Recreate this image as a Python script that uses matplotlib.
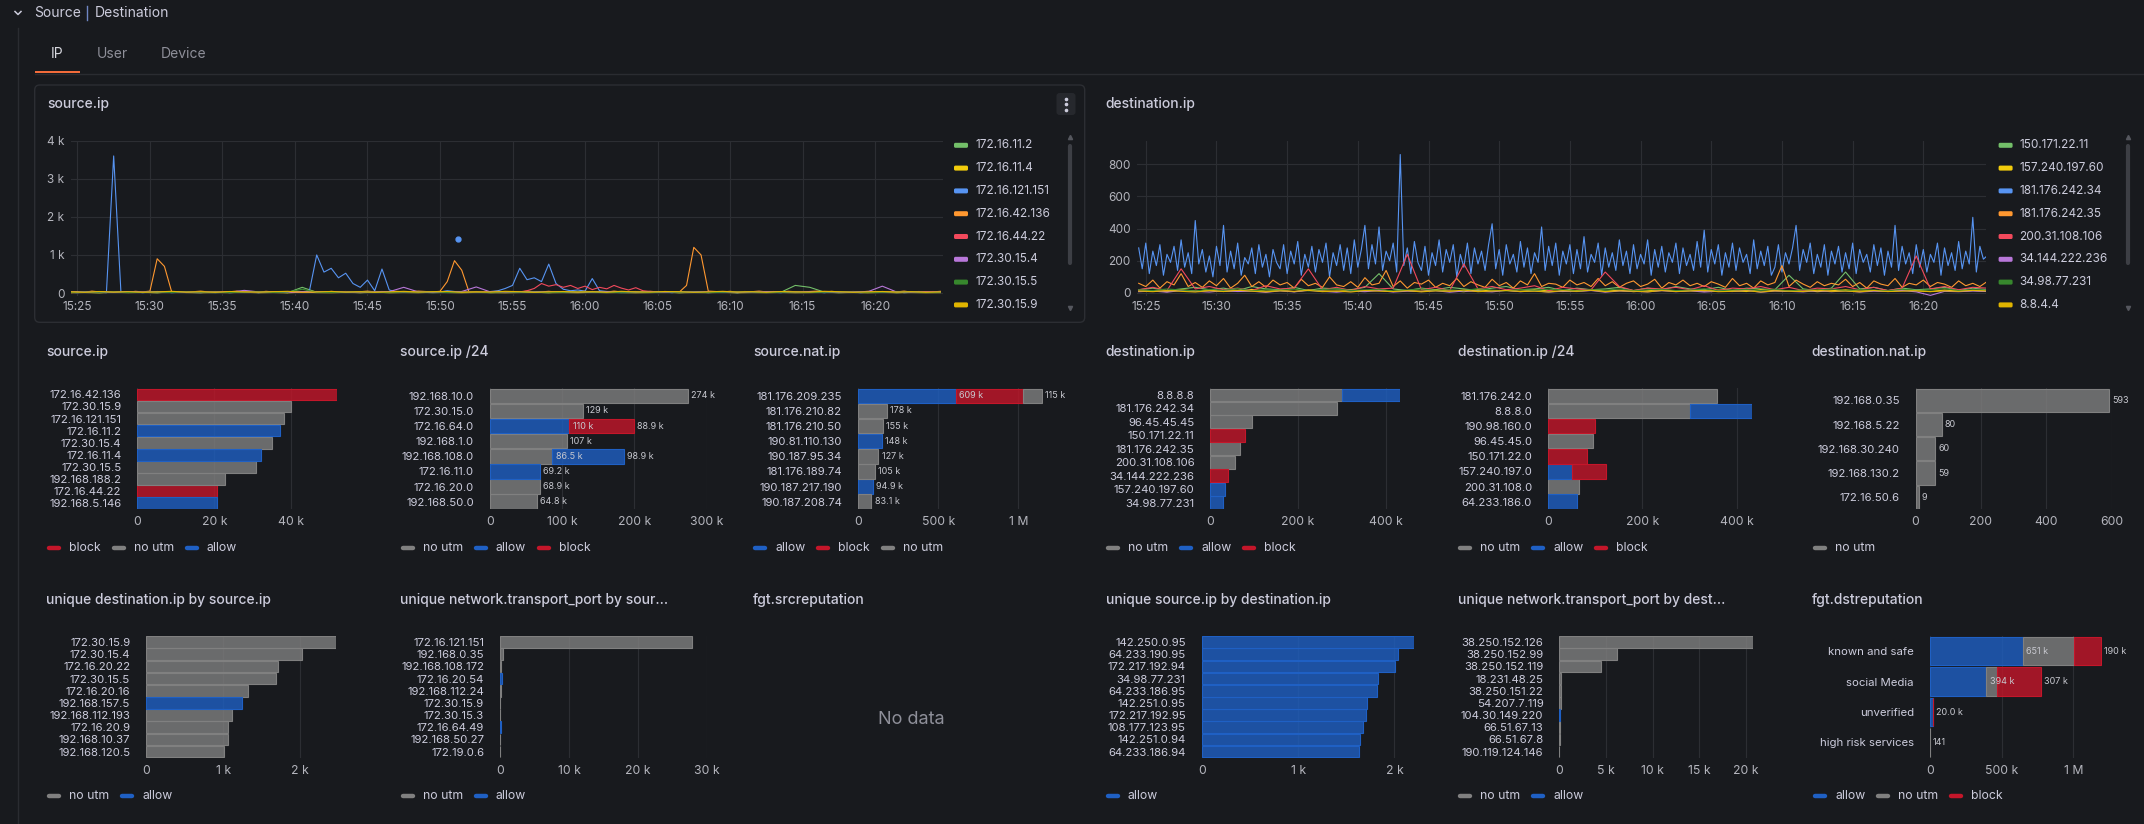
#! /usr/bin/env python3

"""Redraw the Grafana 'Source | Destination' row: two time series and a grid of bar charts."""

import numpy as np
import matplotlib
matplotlib.use('Agg')
import matplotlib.pyplot as plt
from matplotlib.colors import to_rgba
from matplotlib.lines import Line2D
from matplotlib.patches import FancyBboxPatch, Rectangle

plt.rcParams['font.family'] = ['Inter', 'DejaVu Sans']

W, H = 2144, 824

BG = '#181a1e'
TEXT = '#ccccdc'
MUTED = '#8e8f99'
TICK = '#b4b5bd'
GRID = '#2c2e33'
BORDER = '#2c2e33'
VALUE_TEXT = '#c8c9d0'

STATUS_COLORS = {'allow': '#1f60c4', 'block': '#c4162a', 'no utm': '#808080'}
TS_COLORS = ['#73bf69', '#f2cc0c', '#5794f2', '#ff9830',
             '#f2495c', '#b877d9', '#37872d', '#e0b400']

# ---------------------------------------------------------------- time series
# samples cover 15:24:30 .. 16:24:30, x is minutes after midnight
T_START = 15 * 60 + 24.5
TIME_TICKS = [15 * 60 + 25 + 5 * k for k in range(12)]

SRC_NAMES = ['172.16.11.2', '172.16.11.4', '172.16.121.151', '172.16.42.136',
             '172.16.44.22', '172.30.15.4', '172.30.15.5', '172.30.15.9']

SRC_172_16_11_2 = [15, 20, 10, 25, 15, 20, 10, 30, 15, 20,
                   10, 25, 15, 20, 30, 10, 150, 20, 15, 25,
                   10, 20, 30, 15, 25, 10, 20, 15, 30, 10,
                   25, 15, 20, 10, 30, 15, 20, 25, 10, 15,
                   20, 30, 10, 25, 15, 20, 10, 30, 15, 20,
                   200, 150, 25, 10, 20, 15, 30, 10, 25, 20, 15]
SRC_172_16_11_4 = [10, 15, 8, 20, 12, 18, 10, 25, 14, 9,
                   16, 12, 20, 10, 15, 8, 22, 13, 10, 18,
                   12, 25, 9, 15, 11, 20, 14, 10, 17, 12,
                   9, 15, 20, 11, 14, 10, 18, 12, 16, 9,
                   13, 20, 10, 15, 12, 18, 9, 14, 11, 16,
                   10, 13, 19, 12, 15, 9, 17, 11, 14, 10, 12]
SRC_172_16_121_151 = [20, 10, 30, 15, 25, 10, 3600, 20, 15, 30,
                      10, 25, 15, 30, 10, 20, 35, 15, 10, 25,
                      15, 30, 10, 20, 15, 25, 10, 30, 20, 15,
                      25, 40, 20, 60, 1000, 550, 650, 400, 520, 250,
                      150, 340, 60, 630, 80, 30, 20, 40, 15, 25,
                      20, 30, 60, 40, 20, 30, 15, 25, 40, 60,
                      120, 200, 650, 350, 400, 300, 760, 250, 100, 60,
                      80, 50, 380, 60, 40, 30, 20, 25, 15, 30,
                      20, 15, 25, 10, 30, 20, 15, 25, 10, 20,
                      15, 25, 10, 30, 20, 15, 25, 20, 10, 30,
                      20, 15, 40, 25, 10, 30, 20, 15, 25, 10,
                      20, 30, 15, 25, 40, 10, 20, 30, 15, 25, 20]
SRC_172_16_42_136 = [30, 40, 20, 50, 30, 40, 25, 35, 20, 45,
                     30, 50, 900, 700, 30, 40, 25, 35, 50, 30,
                     40, 25, 35, 50, 30, 40, 20, 45, 30, 35,
                     25, 40, 30, 50, 35, 20, 45, 30, 40, 25,
                     35, 50, 30, 40, 25, 45, 30, 35, 50, 40,
                     30, 45, 300, 850, 600, 30, 40, 25, 35, 45,
                     30, 40, 25, 50, 35, 30, 45, 25, 40, 30,
                     35, 45, 30, 40, 25, 50, 30, 35, 40, 25,
                     45, 30, 40, 35, 25, 200, 1200, 1000, 50, 40,
                     30, 45, 25, 40, 35, 50, 30, 40, 25, 45,
                     35, 30, 40, 50, 25, 45, 30, 35, 40, 30,
                     45, 25, 40, 35, 30, 50, 25, 40, 35, 30, 45]
SRC_172_16_44_22 = [10, 20, 15, 30, 25, 40, 20, 15, 35, 20,
                    25, 15, 40, 20, 30, 15, 25, 35, 20, 30,
                    15, 40, 25, 20, 30, 15, 35, 20, 25, 40,
                    20, 30, 15, 25, 40, 20, 30, 15, 35, 25,
                    20, 30, 25, 15, 40, 20, 30, 25, 15, 35,
                    25, 20, 30, 15, 40, 25, 20, 35, 15, 30,
                    25, 40, 30, 60, 120, 250, 180, 220, 150, 200,
                    120, 180, 90, 150, 110, 200, 130, 80, 140, 60,
                    40, 30, 20, 35, 25, 15, 30, 20, 40, 25,
                    30, 20, 35, 25, 15, 40, 20, 30, 25, 35,
                    20, 30, 15, 25, 40, 20, 35, 25, 30, 15,
                    25, 40, 20, 30, 15, 35, 25, 20, 30, 40, 25]
SRC_172_30_15_4 = [20, 30, 15, 25, 35, 20, 40, 25, 30, 15,
                   25, 20, 70, 30, 25, 20, 35, 30, 25, 20,
                   30, 25, 35, 150, 30, 20, 25, 40, 160, 25,
                   30, 20, 35, 25, 30, 20, 25, 30, 35, 20,
                   25, 30, 20, 35, 25, 30, 20, 25, 30, 35,
                   25, 30, 20, 25, 30, 35, 180, 25, 30, 20, 25]
SRC_172_30_15_5 = [15, 25, 20, 30, 15, 20, 25, 15, 30, 20,
                   25, 15, 20, 30, 15, 25, 100, 20, 15, 25,
                   30, 20, 15, 25, 20, 30, 15, 20, 25, 15,
                   30, 20, 25, 15, 20, 30, 25, 15, 20, 25,
                   15, 30, 20, 25, 15, 20, 30, 25, 15, 20,
                   25, 15, 20, 30, 25, 15, 20, 25, 30, 15, 20]
SRC_172_30_15_9 = [30, 20, 40, 25, 35, 20, 30, 45, 25, 35,
                   20, 40, 30, 25, 35, 45, 20, 30, 40, 25,
                   35, 20, 30, 45, 25, 35, 40, 20, 30, 25,
                   45, 35, 20, 30, 40, 25, 35, 20, 45, 30,
                   25, 40, 35, 20, 30, 45, 25, 35, 20, 40,
                   30, 25, 45, 35, 20, 30, 40, 25, 35, 20, 30]
SRC_DOT_TIME = 15 * 60 + 51.25
SRC_DOT_VALUE = 1420

DST_NAMES = ['150.171.22.11', '157.240.197.60', '181.176.242.34', '181.176.242.35',
             '200.31.108.106', '34.144.222.236', '34.98.77.231', '8.8.4.4']

DST_150_171_22_11 = [20, 30, 15, 25, 35, 20, 30, 15, 40, 25,
                     20, 35, 15, 30, 25, 20, 35, 120, 25, 15,
                     30, 20, 35, 25, 15, 30, 40, 20, 25, 35,
                     15, 30, 20, 25, 35, 15, 30, 20, 40, 25,
                     20, 35, 15, 30, 25, 20, 110, 25, 15, 30,
                     130, 25, 35, 15, 30, 20, 25, 35, 15, 30, 20]
DST_157_240_197_60 = [10, 15, 8, 20, 12, 18, 9, 14, 22, 11,
                      16, 8, 19, 13, 10, 17, 12, 21, 9, 15,
                      11, 18, 14, 8, 20, 12, 16, 10, 19, 13,
                      9, 15, 22, 11, 17, 8, 14, 20, 12, 16,
                      10, 18, 13, 9, 21, 15, 11, 17, 8, 14,
                      19, 12, 16, 10, 20, 13, 9, 18, 11, 15, 12]
# 15 s samples
DST_181_176_242_34 = [280, 150, 310, 120, 260, 170, 300, 110, 240, 190, 290, 140, 330, 160, 250, 120, 450, 180, 270, 130,
                      230, 100, 290, 170, 420, 130, 260, 150, 310, 110, 220, 180, 280, 120, 300, 160, 240, 100, 270, 190,
                      150, 300, 120, 260, 180, 320, 110, 240, 160, 290, 130, 270, 190, 310, 100, 250, 170, 300, 140, 280,
                      120, 330, 160, 270, 420, 150, 300, 180, 410, 140, 260, 200, 310, 130, 860, 170, 280, 120, 320, 190,
                      140, 290, 110, 250, 170, 330, 130, 270, 190, 300, 100, 240, 160, 310, 120, 280, 180, 260, 140, 300,
                      430, 150, 270, 110, 300, 180, 240, 130, 320, 160, 280, 120, 250, 190, 410, 140, 290, 170, 310, 110,
                      260, 180, 300, 120, 270, 150, 350, 130, 240, 190, 310, 110, 280, 160, 250, 140, 330, 170, 260, 120,
                      300, 150, 240, 180, 330, 110, 270, 160, 290, 130, 250, 190, 310, 120, 280, 170, 240, 140, 320, 160,
                      390, 130, 270, 180, 300, 110, 250, 160, 310, 140, 280, 190, 240, 120, 330, 150, 260, 170, 290, 110,
                      160, 300, 130, 250, 180, 280, 420, 140, 270, 190, 310, 120, 240, 160, 300, 110, 260, 180, 290, 130,
                      250, 150, 310, 120, 270, 190, 240, 130, 300, 170, 280, 110, 260, 160, 420, 140, 290, 180, 250, 120,
                      300, 160, 270, 130, 240, 190, 310, 110, 280, 170, 250, 140, 320, 150, 260, 180, 470, 130, 290, 210,
                      230]
DST_181_176_242_35 = [60, 40, 80, 30, 70, 50, 120, 40, 65, 35,
                      75, 45, 90, 30, 60, 110, 40, 70, 35, 80,
                      50, 65, 30, 85, 45, 60, 35, 100, 50, 40,
                      70, 35, 95, 50, 60, 140, 40, 75, 30, 65,
                      55, 80, 35, 60, 45, 90, 40, 70, 50, 35,
                      85, 45, 65, 30, 75, 50, 120, 40, 60, 55,
                      35, 80, 50, 65, 40, 90, 45, 70, 35, 60,
                      75, 40, 55, 85, 30, 65, 50, 80, 45, 60,
                      40, 70, 55, 35, 90, 45, 60, 30, 75, 50,
                      65, 170, 40, 80, 55, 35, 70, 45, 60, 50,
                      85, 40, 65, 30, 75, 55, 45, 90, 35, 60,
                      50, 80, 40, 65, 55, 35, 75, 45, 60, 40, 70]
DST_200_31_108_106 = [20, 35, 15, 150, 25, 40, 20, 30, 15, 45,
                      25, 30, 150, 20, 35, 15, 40, 25, 30, 240,
                      20, 35, 15, 180, 25, 40, 20, 30, 45, 15,
                      35, 25, 20, 130, 40, 15, 30, 25, 35, 20,
                      45, 15, 30, 25, 40, 20, 35, 15, 30, 25,
                      40, 20, 35, 15, 30, 230, 25, 40, 20, 35, 30]
DST_34_144_222_236 = [8, 12, 5, 15, 10, 6, 14, 9, 11, 4,
                      13, 7, 16, 10, 5, 12, 8, 15, 6, 11,
                      9, 14, 5, 12, 10, 7, 16, 8, 13, 6,
                      11, 9, 15, 5, 12, 10, 7, 14, 8, 13,
                      6, 11, 9, 16, 5, 12, 10, 7, 14, 8,
                      13, 6, 11, 9, 15, 7, -15, 10, 8, 12, 9]
DST_34_98_77_231 = [20, 15, 25, 18, 12, 22, 16, 28, 14, 20,
                    17, 24, 13, 21, 26, 15, 19, 23, 12, 18,
                    25, 16, 20, 14, 27, 18, 13, 22, 16, 24,
                    19, 12, 21, 17, 25, 14, 20, 23, 15, 18,
                    26, 13, 19, 22, 16, 24, 12, 20, 17, 25,
                    14, 21, 18, 13, 23, 16, 19, 27, 15, 20, 18]
DST_8_8_4_4 = [12, 8, 15, 10, 6, 14, 9, 17, 11, 7,
               13, 10, 16, 8, 12, 6, 15, 11, 9, 14,
               7, 13, 10, 18, 8, 12, 15, 9, 11, 6,
               14, 10, 17, 8, 13, 11, 7, 15, 9, 12,
               16, 8, 10, 14, 6, 13, 11, 9, 17, 10,
               12, 7, 15, 9, 11, 14, 8, 13, 10, 16, 12]

# ---------------------------------------------------------------- bar charts
SRC_IP = ['172.16.42.136', '172.30.15.9', '172.16.121.151', '172.16.11.2', '172.30.15.4',
          '172.16.11.4', '172.30.15.5', '192.168.188.2', '172.16.44.22', '192.168.5.146']
SRC_IP_BLOCK = [52000, 0, 0, 0, 0, 0, 0, 0, 20700, 0]
SRC_IP_NO_UTM = [0, 40000, 38000, 0, 34900, 0, 30900, 22700, 0, 0]
SRC_IP_ALLOW = [0, 0, 0, 37100, 0, 32200, 0, 0, 0, 20700]

SRC_NET = ['192.168.10.0', '172.30.15.0', '172.16.64.0', '192.168.1.0',
           '192.168.108.0', '172.16.11.0', '172.16.20.0', '192.168.50.0']
SRC_NET_NO_UTM = [274000, 129000, 0, 107000, 86500, 0, 68900, 64800]
SRC_NET_ALLOW = [0, 0, 110000, 0, 98900, 69200, 0, 0]
SRC_NET_BLOCK = [0, 0, 88900, 0, 0, 0, 0, 0]

SRC_NAT = ['181.176.209.235', '181.176.210.82', '181.176.210.50', '190.81.110.130',
           '190.187.95.34', '181.176.189.74', '190.187.217.190', '190.187.208.74']
SRC_NAT_ALLOW = [609000, 0, 0, 148000, 0, 0, 94900, 0]
SRC_NAT_BLOCK = [421000, 0, 0, 0, 0, 0, 0, 0]
SRC_NAT_NO_UTM = [115000, 178000, 155000, 0, 127000, 105000, 0, 83100]

DST_IP = ['8.8.8.8', '181.176.242.34', '96.45.45.45', '150.171.22.11', '181.176.242.35',
          '200.31.108.106', '34.144.222.236', '157.240.197.60', '34.98.77.231']
DST_IP_NO_UTM = [301000, 288000, 95600, 0, 68600, 55500, 0, 0, 0]
DST_IP_ALLOW = [131000, 0, 0, 0, 0, 0, 0, 32400, 29300]
DST_IP_BLOCK = [0, 0, 0, 78600, 0, 0, 39300, 0, 0]

DST_NET = ['181.176.242.0', '8.8.8.0', '190.98.160.0', '96.45.45.0',
           '150.171.22.0', '157.240.197.0', '200.31.108.0', '64.233.186.0']
DST_NET_NO_UTM = [358000, 302000, 0, 96400, 0, 0, 66500, 0]
DST_NET_ALLOW = [0, 130000, 0, 0, 0, 50000, 0, 61500]
DST_NET_BLOCK = [0, 0, 100600, 0, 83600, 72000, 0, 0]

DST_NAT = ['192.168.0.35', '192.168.5.22', '192.168.30.240', '192.168.130.2', '172.16.50.6']
DST_NAT_NO_UTM = [593, 80, 60, 59, 9]

UNIQ_DST = ['172.30.15.9', '172.30.15.4', '172.16.20.22', '172.30.15.5', '172.16.20.16',
            '192.168.157.5', '192.168.112.193', '172.16.20.9', '192.168.10.37', '192.168.120.5']
UNIQ_DST_NO_UTM = [2470, 2020, 1710, 1690, 1320, 0, 1110, 1066, 1057, 1004]
UNIQ_DST_ALLOW = [0, 0, 0, 0, 0, 1250, 0, 0, 0, 0]

PORT_SRC = ['172.16.121.151', '192.168.0.35', '192.168.108.172', '172.16.20.54', '192.168.112.24',
            '172.30.15.9', '172.30.15.3', '172.16.64.49', '192.168.50.27', '172.19.0.6']
PORT_SRC_NO_UTM = [27800, 480, 110, 0, 190, 60, 55, 0, 50, 45]
PORT_SRC_ALLOW = [0, 0, 0, 240, 0, 0, 0, 170, 0, 0]

UNIQ_SRC = ['142.250.0.95', '64.233.190.95', '172.217.192.94', '34.98.77.231', '64.233.186.95',
            '142.251.0.95', '172.217.192.95', '108.177.123.95', '142.251.0.94', '64.233.186.94']
UNIQ_SRC_ALLOW = [2200, 2040, 2010, 1830, 1820, 1710, 1705, 1670, 1640, 1630]

PORT_DST = ['38.250.152.126', '38.250.152.99', '38.250.152.119', '18.231.48.25', '38.250.151.22',
            '54.207.7.119', '104.30.149.220', '66.51.67.13', '66.51.67.8', '190.119.124.146']
PORT_DST_NO_UTM = [20800, 6200, 4450, 200, 150, 150, 0, 30, 30, 20]
PORT_DST_ALLOW = [0, 0, 0, 0, 0, 0, 60, 0, 0, 0]

DST_REP = ['known and safe', 'social Media', 'unverified', 'high risk services']
DST_REP_ALLOW = [651000, 394000, 20000, 0]
DST_REP_NO_UTM = [351000, 72000, 0, 141]
DST_REP_BLOCK = [190000, 307000, 3000, 0]


def main():
    """Draw the whole dashboard row and save it."""
    fig = plt.figure(figsize=(W / 100, H / 100), dpi=100, facecolor=BG)
    bg = fig.add_axes([0, 0, 1, 1])
    bg.set_xlim(0, W)
    bg.set_ylim(H, 0)
    bg.axis('off')
    renderer = fig.canvas.get_renderer()

    draw_header(bg)

    # source.ip time series sits in a highlighted panel
    bg.add_patch(FancyBboxPatch((34.7, 85), 1050, 237.3,
                                boxstyle='round,pad=0,rounding_size=5',
                                fc='none', ec=BORDER, lw=1))
    bg.add_patch(FancyBboxPatch((1056.5, 93), 19, 22,
                                boxstyle='round,pad=0,rounding_size=3',
                                fc='#26282d', ec='none'))
    for yy in (98.5, 104, 109.5):
        bg.plot([1066], [yy], 'o', ms=1.6, color=TEXT)

    src_values = [SRC_172_16_11_2, SRC_172_16_11_4, SRC_172_16_121_151, SRC_172_16_42_136,
                  SRC_172_16_44_22, SRC_172_30_15_4, SRC_172_30_15_5, SRC_172_30_15_9]
    ax = ts_panel(fig, bg, 'source.ip', 47, (70.6, 140.7, 942.8, 295.7),
                  (924.53, 984.67), (-70, 4000), [0, 1000, 2000, 3000, 4000],
                  SRC_NAMES, src_values, 954, 1070)
    ax.plot([SRC_DOT_TIME], [SRC_DOT_VALUE], 'o', ms=3.5, color=TS_COLORS[2])

    dst_values = [DST_150_171_22_11, DST_157_240_197_60, DST_181_176_242_34, DST_181_176_242_35,
                  DST_200_31_108_106, DST_34_144_222_236, DST_34_98_77_231, DST_8_8_4_4]
    ts_panel(fig, bg, 'destination.ip', 1105, (1137, 141, 1985.8, 295.7),
             (924.38, 984.42), (-17, 944), [0, 200, 400, 600, 800],
             DST_NAMES, dst_values, 1998.6, 2128.3)

    rows = {2: dict(title=351.7, bars=(388.3, 509.3), legend=547.7),
            3: dict(title=600.0, bars=(636.0, 757.7), legend=795.7)}
    title_x = [46.5, 400, 753, 1105.5, 1458.5, 1811.5]
    legend_x = [47, 400.7, 753, 1106, 1458, 1813]

    panels = [
        dict(title='source.ip', row=2, col=0, cats=SRC_IP, x0=137.4, x1=337.4, xmax=52000, step=20000,
             series=[('block', SRC_IP_BLOCK), ('no utm', SRC_IP_NO_UTM), ('allow', SRC_IP_ALLOW)]),
        dict(title='source.ip /24', row=2, col=1, cats=SRC_NET, x0=490, x1=706.7, xmax=300000,
             step=100000, labels=True,
             series=[('no utm', SRC_NET_NO_UTM), ('allow', SRC_NET_ALLOW), ('block', SRC_NET_BLOCK)]),
        dict(title='source.nat.ip', row=2, col=2, cats=SRC_NAT, x0=858, x1=1042.5, xmax=1150000,
             step=500000, labels=True,
             series=[('allow', SRC_NAT_ALLOW), ('block', SRC_NAT_BLOCK), ('no utm', SRC_NAT_NO_UTM)]),
        dict(title='destination.ip', row=2, col=3, cats=DST_IP, x0=1210.3, x1=1399.7, xmax=432000,
             step=200000,
             series=[('no utm', DST_IP_NO_UTM), ('allow', DST_IP_ALLOW), ('block', DST_IP_BLOCK)]),
        dict(title='destination.ip /24', row=2, col=4, cats=DST_NET, x0=1548, x1=1751.7, xmax=432000,
             step=200000,
             series=[('no utm', DST_NET_NO_UTM), ('allow', DST_NET_ALLOW), ('block', DST_NET_BLOCK)]),
        dict(title='destination.nat.ip', row=2, col=5, cats=DST_NAT, x0=1915.6, x1=2111.6, xmax=600,
             step=200, labels=True, series=[('no utm', DST_NAT_NO_UTM)]),
        dict(title='unique destination.ip by source.ip', row=3, col=0, cats=UNIQ_DST, x0=146.2,
             x1=336.4, xmax=2470, step=1000,
             series=[('no utm', UNIQ_DST_NO_UTM), ('allow', UNIQ_DST_ALLOW)]),
        dict(title='unique network.transport_port by sour...', row=3, col=1, cats=PORT_SRC, x0=500,
             x1=707.3, xmax=30000, step=10000,
             series=[('no utm', PORT_SRC_NO_UTM), ('allow', PORT_SRC_ALLOW)]),
        dict(title='unique source.ip by destination.ip', row=3, col=3, cats=UNIQ_SRC, x0=1201.8,
             x1=1413.7, xmax=2200, step=1000, series=[('allow', UNIQ_SRC_ALLOW)]),
        dict(title='unique network.transport_port by dest...', row=3, col=4, cats=PORT_DST, x0=1559.3,
             x1=1753.2, xmax=20800, step=5000,
             series=[('no utm', PORT_DST_NO_UTM), ('allow', PORT_DST_ALLOW)]),
        dict(title='fgt.dstreputation', row=3, col=5, cats=DST_REP, x0=1929.8, x1=2102,
             xmax=1200000, step=500000, labels=True, gap=0.93,
             series=[('allow', DST_REP_ALLOW), ('no utm', DST_REP_NO_UTM), ('block', DST_REP_BLOCK)]),
    ]

    for p in panels:
        row = rows[p['row']]
        bg.text(title_x[p['col']], row['title'], p['title'], fontsize=10, color=TEXT,
                va='center', ha='left', fontweight='medium')
        bar_panel(fig, p, row['bars'])
        draw_legend(bg, renderer, legend_x[p['col']], row['legend'],
                    [name for name, _ in p['series']])

    # empty panel
    bg.text(title_x[2], rows[3]['title'], 'fgt.srcreputation', fontsize=10, color=TEXT,
            va='center', ha='left', fontweight='medium')
    bg.text(911.4, 719, 'No data', fontsize=13, color=MUTED, va='center', ha='center')

    fig.savefig('out.png', dpi=100, facecolor=BG)


def px_axes(fig, x0, y0, x1, y1):
    """Add axes from pixel box given with a top-left origin."""
    ax = fig.add_axes([x0 / W, 1 - y1 / H, (x1 - x0) / W, (y1 - y0) / H])
    ax.set_facecolor('none')
    for s in ax.spines.values():
        s.set_visible(False)
    return ax


def draw_header(bg):
    """Row header, tabs and guide lines."""
    bg.add_line(Line2D([15, 18, 21], [11.5, 14.5, 11.5], color=TEXT, lw=1.1))
    bg.text(34.3, 13, 'Source', fontsize=10, color=TEXT, va='center', ha='left')
    bg.add_line(Line2D([87, 87], [6, 20], color='#6f86c4', lw=1.0))
    bg.text(94.3, 13, 'Destination', fontsize=10, color=TEXT, va='center', ha='left')
    bg.add_line(Line2D([18.3, 18.3], [28, H], color='#2a2c31', lw=1))

    bg.text(51, 54.3, 'IP', fontsize=10, color='#d8d9e0', va='center', ha='left')
    bg.text(96.7, 54.3, 'User', fontsize=10, color=MUTED, va='center', ha='left')
    bg.text(160.3, 54.3, 'Device', fontsize=10, color=MUTED, va='center', ha='left')
    bg.add_line(Line2D([35, W], [74, 74], color='#2a2c31', lw=1))
    bg.add_patch(Rectangle((35, 71), 45, 2.2, color='#f26b3a', lw=0))


def ts_panel(fig, bg, title, title_x, box, xlim, ylim, yticks, names, values, legend_x, scroll_x):
    """Line chart with a vertical legend and scroll bar on the right."""
    bg.text(title_x, 104.3, title, fontsize=10, color=TEXT, va='center', ha='left',
            fontweight='medium')
    ax = px_axes(fig, *box)
    for vals, color in zip(values, TS_COLORS):
        v = np.asarray(vals, float)
        t = T_START + np.linspace(0, 60, len(v))
        ax.plot(t, v, color=color, lw=0.8)
    ax.set_xlim(*xlim)
    ax.set_ylim(*ylim)
    ax.set_xticks(TIME_TICKS)
    ax.set_xticklabels([f'{m // 60}:{m % 60:02d}' for m in TIME_TICKS])
    ax.set_yticks(yticks)
    ax.set_yticklabels([fmt_tick(v) for v in yticks])
    ax.grid(True, color=GRID, lw=0.8)
    ax.set_axisbelow(True)
    ax.tick_params(length=0, labelsize=8.5, labelcolor=TICK)
    ax.tick_params(axis='x', pad=4)
    ax.tick_params(axis='y', pad=4.5)

    for k, name in enumerate(names):
        y = 145.3 + 22.8 * k
        bg.add_patch(FancyBboxPatch((legend_x, y - 2.5), 14, 5,
                                    boxstyle='round,pad=0,rounding_size=1.5',
                                    fc=TS_COLORS[k], ec='none'))
        bg.text(legend_x + 21, y, name, fontsize=8.5, color=TEXT, va='center', ha='left')

    bg.add_line(Line2D([scroll_x, scroll_x], [146, 263], color='#3d3f45', lw=3,
                       solid_capstyle='round'))
    bg.plot([scroll_x], [137], marker='^', ms=3, color='#55575e', ls='none')
    bg.plot([scroll_x], [308], marker='v', ms=3, color='#55575e', ls='none')
    return ax


def bar_panel(fig, p, bars_y):
    """Horizontal stacked bar chart in the Grafana bar chart style."""
    ax = px_axes(fig, p['x0'], bars_y[0], p['x1'], bars_y[1])
    cats = p['cats']
    n = len(cats)
    pos = np.arange(n)
    left = np.zeros(n)
    segs = [[] for _ in range(n)]
    for name, vals in p['series']:
        vals = np.asarray(vals, float)
        color = STATUS_COLORS[name]
        m = vals > 0
        ax.barh(pos[m], vals[m], left=left[m], height=p.get('gap', 0.96),
                color=to_rgba(color, 0.8), edgecolor=color, linewidth=0.8, zorder=2)
        for i in np.flatnonzero(m):
            segs[i].append((left[i] + vals[i], vals[i]))
        left += vals

    if p.get('labels'):
        for i, s in enumerate(segs):
            for j, (end, v) in enumerate(s):
                last = j == len(s) - 1
                if 0 < j and not last:
                    continue
                if last and j > 0 and v < 0.03 * p['xmax']:
                    continue
                ax.annotate(fmt_value(v), (end, i), xytext=(2.3, 0), textcoords='offset points',
                            va='center', ha='left', fontsize=6.5, color=VALUE_TEXT,
                            annotation_clip=False, zorder=3)

    ax.set_xlim(0, p['xmax'])
    ax.set_ylim(n - 0.5, -0.5)
    ticks = np.arange(0, p['xmax'] + 1, p['step'])
    ax.set_xticks(ticks)
    ax.set_xticklabels([fmt_tick(v) for v in ticks])
    ax.set_yticks(pos)
    ax.set_yticklabels(cats)
    ax.grid(True, axis='x', color=GRID, lw=0.8, zorder=0)
    ax.set_axisbelow(True)
    ax.tick_params(length=0)
    ax.tick_params(axis='x', pad=5, labelsize=8.8, labelcolor=TICK)
    ax.tick_params(axis='y', pad=11.5, labelsize=8.2, labelcolor=TEXT)
    return ax


def draw_legend(bg, renderer, x, y, names):
    """Horizontal legend: short coloured dash followed by the series name."""
    for name in names:
        bg.add_line(Line2D([x + 2, x + 12], [y, y], color=STATUS_COLORS[name], lw=3.2,
                           solid_capstyle='round'))
        t = bg.text(x + 22, y, name, fontsize=8.8, color=TEXT, va='center', ha='left')
        x = x + 22 + t.get_window_extent(renderer).width + 11


def fmt_tick(v):
    """Axis tick text such as 0, 20 k, 1 M."""
    if v == 0:
        return '0'
    if v >= 1e6:
        return f'{v / 1e6:g} M'
    if v >= 1e3:
        return f'{v / 1e3:g} k'
    return f'{v:g}'


def fmt_value(v):
    """Bar value text with three significant digits."""
    if v >= 1e6:
        return f'{v / 1e6:.3g} M'
    if v >= 1e3:
        k = v / 1e3
        if k >= 100:
            return f'{k:.0f} k'
        if k >= 10:
            return f'{k:.1f} k'
        return f'{k:.2f} k'
    return f'{v:.0f}'


if __name__ == "__main__":
    main()
